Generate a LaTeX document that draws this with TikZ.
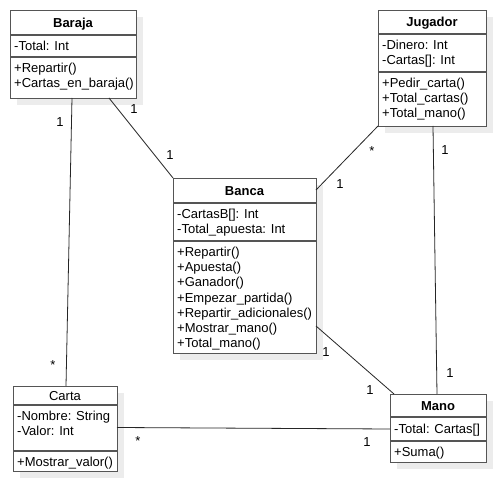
\documentclass[tikz,border=0pt]{standalone}
\usepackage{fontspec}
\setmainfont{Liberation Sans}
\definecolor{boxline}{RGB}{85,85,85}
\definecolor{shadowc}{RGB}{236,236,236}
\tikzset{
  classbox/.style={draw=boxline, line width=1.3pt, fill=white, inner sep=0pt, anchor=north west},
  sepline/.style={draw=boxline, line width=1.3pt},
  conn/.style={draw=black!85, line width=0.8pt},
  txt/.style={inner sep=0pt, anchor=base west, font=\fontsize{13}{15}\selectfont},
  ttl/.style={inner sep=0pt, anchor=base, font=\fontsize{13}{15}\selectfont\bfseries},
  mult/.style={inner sep=0pt, anchor=base, font=\fontsize{13}{15}\selectfont},
}
% #1 name, #2 x1, #3 y1, #4 x2, #5 y2, #6 sep1, #7 sep2, #8 title
\newcommand\umlbox[8]{%
  \fill[shadowc] (#2+7,#3+7) rectangle (#4+7,#5+7);
  \node[classbox, minimum width={#4pt-#2pt}, minimum height={#5pt-#3pt}] (#1) at (#2,#3) {};
  \draw[sepline] (#2,#6) -- (#4,#6);
  \draw[sepline] (#2,#7) -- (#4,#7);
  \node[ttl] (#1-title) at ({(#2+#4)/2},{(#3+#6)/2+4.7}) {#8};
}
% #1 name prefix, #2 x, #3 first baseline, #4 list of lines
\newcommand\umllines[4]{%
  \foreach \t [count=\i] in {#4} {
    \node[txt] (#1-\i) at (#2, {#3+15.2*\i-15.2}) {\t};
  }
}
\begin{document}
\begin{tikzpicture}[x=1pt,y=-1pt]
\fill[white] (0,0) rectangle (496,481);
\useasboundingbox (0,0) rectangle (496,481);

% Baraja
\umlbox{baraja}{10}{10}{136}{98}{35}{57}{Baraja}
\umllines{baraja-a}{14}{50.5}{-Total: Int}
\umllines{baraja-m}{14}{72.5}{+Repartir(),+Cartas\_en\_baraja()}

% Jugador
\umlbox{jugador}{378}{10}{486}{126}{34}{72}{Jugador}
\umllines{jugador-a}{382}{49.5}{-Dinero: Int,-Cartas[]: Int}
\umllines{jugador-m}{382}{87.5}{+Pedir\_carta(),+Total\_cartas(),+Total\_mano()}

% Banca
\umlbox{banca}{173}{178}{316}{353}{203}{241}{Banca}
\umllines{banca-a}{177}{218.5}{-CartasB[]: Int,-Total\_apuesta: Int}
\umllines{banca-m}{177}{256.5}{+Repartir(),+Apuesta(),+Ganador(),+Empezar\_partida(),+Repartir\_adicionales(),+Mostrar\_mano(),+Total\_mano()}

% Carta
\umlbox{carta}{13}{386}{117}{471}{405}{451}{\mdseries Carta}
\umllines{carta-a}{17}{420.5}{-Nombre: String,-Valor: Int}
\umllines{carta-m}{17}{466}{+Mostrar\_valor()}

% Mano
\umlbox{mano}{390}{394}{486}{462}{417}{441}{Mano}
\umllines{mano-a}{394}{433.5}{-Total: Cartas[]}
\umllines{mano-m}{394}{456.5}{+Suma()}

% connector end points
\coordinate (bc-a) at (72,98);   \coordinate (bc-b) at (66,386);
\coordinate (bb-a) at (109,98);  \coordinate (bb-b) at (173,178);
\coordinate (jb-a) at (378,126); \coordinate (jb-b) at (316,190);
\coordinate (jm-a) at (433,126); \coordinate (jm-b) at (437,394);
\coordinate (bm-a) at (316,326); \coordinate (bm-b) at (394,394);
\coordinate (cm-a) at (117,427.5); \coordinate (cm-b) at (390,429);

\draw[conn] (bc-a) -- (bc-b);
\draw[conn] (bb-a) -- (bb-b);
\draw[conn] (jb-a) -- (jb-b);
\draw[conn] (jm-a) -- (jm-b);
\draw[conn] (bm-a) -- (bm-b);
\draw[conn] (cm-a) -- (cm-b);

% multiplicities
\node[mult] (m1) at (60,126.5) {1};
\node[mult] (m2) at (53,370) {*};
\node[mult] (m3) at (134,113.5) {1};
\node[mult] (m4) at (170,159.5) {1};
\node[mult] (m5) at (372,156) {*};
\node[mult] (m6) at (340,188.5) {1};
\node[mult] (m7) at (445,154.5) {1};
\node[mult] (m8) at (450,377.5) {1};
\node[mult] (m9) at (326,356.5) {1};
\node[mult] (m10) at (370,394.5) {1};
\node[mult] (m11) at (138,446) {*};
\node[mult] (m12) at (367,446.5) {1};
\end{tikzpicture}
\end{document}
